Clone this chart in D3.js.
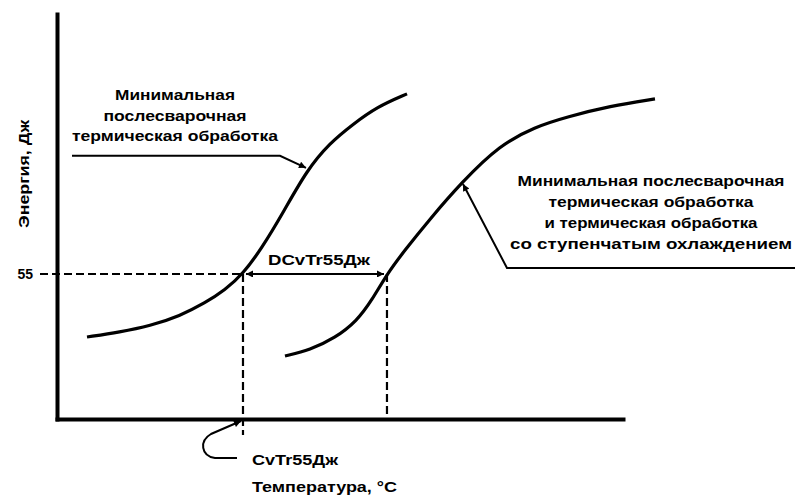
<!DOCTYPE html>
<html>
<head>
<meta charset="utf-8">
<script src="https://cdn.jsdelivr.net/npm/d3@7"></script>
<style>
  body { margin: 0; background: #fff; }
  text { font-family: "Liberation Sans", Arial, sans-serif; font-weight: bold; fill: #000; }
</style>
</head>
<body>
<div id="chart"></div>
<script>
// data (temperature in relative units, energy in J)
var curveBase = [
  [5.30, 31.1], [11.13, 33.0], [16.43, 35.3], [21.73, 39.1], [26.15, 44.0], [29.68, 48.9],
  [32.86, 55.0], [36.22, 64.9], [39.93, 78.2], [44.17, 94.5], [48.23, 104.7], [52.12, 111.5],
  [56.54, 118.4], [61.84, 123.3]
];
var curveStep = [
  [40.28, 23.9], [44.70, 26.2], [49.12, 30.7], [53.00, 37.2], [55.65, 45.1], [58.30, 55.0],
  [61.48, 64.1], [65.90, 75.9], [71.55, 89.9], [78.27, 104.0], [84.45, 110.8], [90.11, 114.6],
  [97.70, 118.7], [105.65, 121.4]
];
var yTicks = [55];
var energyLevel = 55;
var tBase = 32.86, tStep = 58.30;
var label1 = ["Минимальная", "послесварочная", "термическая обработка"];
var label2 = ["Минимальная послесварочная", "термическая обработка", "и термическая обработка", "со ступенчатым охлаждением"];

function chart(){
  var width = 795, height = 496;
  var svg = d3.select("#chart")
    .append("svg")
    .attr("width", width)
    .attr("height", height);

  var defs = svg.append("defs");
  defs.append("marker")
    .attr("id", "arr")
    .attr("viewBox", "0 0 10 10")
    .attr("refX", 10).attr("refY", 5)
    .attr("markerWidth", 11).attr("markerHeight", 7)
    .attr("markerUnits", "userSpaceOnUse")
    .attr("orient", "auto-start-reverse")
    .append("path")
    .attr("d", "M0,0 L10,5 L0,10 Z")
    .attr("fill", "#000");

  // scales
  var x = d3.scaleLinear().domain([0, 100]).range([57, 623]);
  var y = d3.scaleLinear().domain([0, 153.6]).range([419, 14]);

  // axes
  var gx = svg.append("g")
    .attr("transform", "translate(0," + y(0) + ")")
    .call(d3.axisBottom(x).tickValues([]).tickSizeOuter(0));
  var gy = svg.append("g")
    .attr("transform", "translate(" + x(0) + ",0)")
    .call(d3.axisLeft(y).tickValues(yTicks).tickSize(0).tickSizeOuter(0).tickPadding(24));
  [gx, gy].forEach(function(g){
    g.select(".domain").attr("stroke", "#000").attr("stroke-width", 4).attr("stroke-linecap", "square");
  });
  gy.selectAll(".tick text")
    .attr("font-family", "Liberation Sans, Arial, sans-serif")
    .attr("font-weight", "bold")
    .attr("font-size", 14)
    .attr("fill", "#000");

  // dashed guide lines
  var dash = svg.append("g")
    .attr("stroke", "#000").attr("stroke-width", 2.2).attr("stroke-dasharray", "8,4");
  dash.append("line")
    .attr("x1", x(0) - 17).attr("y1", y(energyLevel))
    .attr("x2", x(tBase)).attr("y2", y(energyLevel));
  dash.append("line")
    .attr("x1", x(tBase)).attr("y1", y(energyLevel))
    .attr("x2", x(tBase)).attr("y2", y(0) + 16);
  dash.append("line")
    .attr("x1", x(tStep)).attr("y1", y(energyLevel))
    .attr("x2", x(tStep)).attr("y2", y(0));

  // curves
  var line = d3.line()
    .x(function(d){ return x(d[0]); })
    .y(function(d){ return y(d[1]); })
    .curve(d3.curveBasis);
  svg.selectAll(".curve")
    .data([curveBase, curveStep])
    .enter()
    .append("path")
    .attr("class", "curve")
    .attr("d", line)
    .attr("fill", "none")
    .attr("stroke", "#000")
    .attr("stroke-width", 3.2);

  // double arrow between curves
  svg.append("line")
    .attr("x1", x(tBase) + 3).attr("y1", y(energyLevel))
    .attr("x2", x(tStep) - 3).attr("y2", y(energyLevel))
    .attr("stroke", "#000").attr("stroke-width", 2)
    .attr("marker-start", "url(#arr)")
    .attr("marker-end", "url(#arr)");
  svg.append("text")
    .attr("x", (x(tBase) + x(tStep)) / 2 + 4)
    .attr("y", y(energyLevel) - 9)
    .attr("text-anchor", "middle")
    .attr("font-size", 14)
    .attr("textLength", 102).attr("lengthAdjust", "spacingAndGlyphs")
    .text("DCvTr55Дж");

  // leaders
  var lead = svg.append("g")
    .attr("fill", "none").attr("stroke", "#000").attr("stroke-width", 2);
  var a1 = [x(44.17), y(94.5)];
  lead.append("path")
    .attr("d", "M72," + (a1[1] - 14) + " L" + (a1[0] - 27) + "," + (a1[1] - 14) + " L" + (a1[0] - 1) + "," + (a1[1] - 2))
    .attr("marker-end", "url(#arr)");
  var a2 = [x(71.55), y(89.9)];
  lead.append("path")
    .attr("d", "M" + width + "," + (a2[1] + 86) + " L" + (a2[0] + 45) + "," + (a2[1] + 86) + " L" + (a2[0] + 1) + "," + (a2[1] + 2))
    .attr("marker-end", "url(#arr)");
  var a3 = [x(tBase) - 2, y(0) + 2];
  lead.append("path")
    .attr("d", "M" + (a3[0] - 4) + "," + (a3[1] + 37) + " L" + (a3[0] - 26) + "," + (a3[1] + 37) +
      " C" + (a3[0] - 40) + "," + (a3[1] + 35) + " " + (a3[0] - 42) + "," + (a3[1] + 20) + " " + (a3[0] - 30) + "," + (a3[1] + 13) +
      " L" + a3[0] + "," + a3[1])
    .attr("marker-end", "url(#arr)");

  // annotation texts
  var w1 = [120, 143, 206];
  svg.selectAll(".lab1")
    .data(label1)
    .enter()
    .append("text")
    .attr("x", 175)
    .attr("y", function(d, i){ return 100 + i * 20.5; })
    .attr("text-anchor", "middle")
    .attr("font-size", 15)
    .attr("textLength", function(d, i){ return w1[i]; })
    .attr("lengthAdjust", "spacingAndGlyphs")
    .text(function(d){ return d; });

  var w2 = [267, 205, 213, 282];
  svg.selectAll(".lab2")
    .data(label2)
    .enter()
    .append("text")
    .attr("x", 651)
    .attr("y", function(d, i){ return 186 + i * 21; })
    .attr("text-anchor", "middle")
    .attr("font-size", 15)
    .attr("textLength", function(d, i){ return w2[i]; })
    .attr("lengthAdjust", "spacingAndGlyphs")
    .text(function(d){ return d; });

  // axis labels
  svg.append("text")
    .attr("x", 252).attr("y", 465)
    .attr("font-size", 14)
    .attr("textLength", 86).attr("lengthAdjust", "spacingAndGlyphs")
    .text("CvTr55Дж");
  svg.append("text")
    .attr("x", 252).attr("y", 492)
    .attr("font-size", 14)
    .attr("textLength", 145).attr("lengthAdjust", "spacingAndGlyphs")
    .text("Температура, °С");
  svg.append("text")
    .attr("transform", "translate(29,174) rotate(-90)")
    .attr("text-anchor", "middle")
    .attr("font-size", 14)
    .attr("textLength", 108).attr("lengthAdjust", "spacingAndGlyphs")
    .text("Энергия, Дж");
}

chart();
</script>
</body>
</html>
